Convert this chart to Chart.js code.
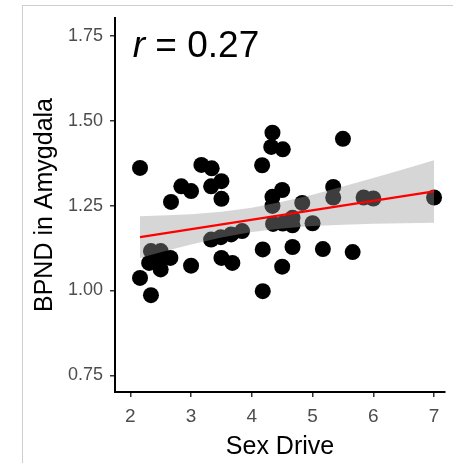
<!DOCTYPE html>
<html>
<head>
<meta charset="utf-8">
<script src="https://cdn.jsdelivr.net/npm/chart.js@4/dist/chart.umd.min.js"></script>
<style>
  html, body { margin: 0; padding: 0; background: #fff; }
  #wrap { position: relative; width: 453px; height: 463px; overflow: hidden; }
  #c { position: absolute; left: 0; top: 0; }
  #frame { position: absolute; left: 22px; top: 5px; width: 440px; height: 470px;
           border-left: 1px solid #cfcfcf; border-top: 1px solid #cfcfcf; pointer-events: none; }
</style>
</head>
<body>
<div id="wrap"><canvas id="c" width="453" height="463"></canvas><div id="frame"></div></div>
<script>
// Sex drive score vs. amygdala binding potential, one point per subject
const sexDrive = [
  2.16, 3.17, 3.34, 2.84, 3.00, 2.67, 3.33, 3.50, 3.50,
  2.34, 2.50, 2.31, 2.47, 2.66, 2.50, 2.16, 2.34, 3.00,
  3.33, 3.49, 3.66, 3.84, 3.50, 3.68,
  4.34, 4.32, 4.51, 4.17, 4.50, 4.34, 4.34, 4.83, 4.35,
  4.51, 4.67, 5.00, 4.67, 4.18, 4.67, 5.17, 4.50, 4.18,
  5.50, 5.34, 5.34, 5.84, 6.00, 7.00, 5.66
];
const bpnd = [
  1.361, 1.370, 1.360, 1.307, 1.293, 1.261, 1.307, 1.322, 1.270,
  1.116, 1.116, 1.081, 1.086, 1.096, 1.062, 1.037, 0.986, 1.073,
  1.150, 1.157, 1.165, 1.175, 1.096, 1.081,
  1.465, 1.423, 1.416, 1.369, 1.296, 1.276, 1.249, 1.258, 1.196,
  1.197, 1.192, 1.198, 1.214, 1.121, 1.128, 1.122, 1.070, 0.998,
  1.447, 1.305, 1.274, 1.274, 1.271, 1.274, 1.113
];

// Linear fit and its 95% confidence band
const fitX = [2.16, 7.00];
const fitY = [1.157, 1.292];
const bandX     = [2.16,   2.5,    3.0,    3.5,    4.0,    4.5,    5.0,    5.5,    6.0,    6.5,    7.0];
const bandUpper = [1.2185, 1.2206, 1.2249, 1.2323, 1.2441, 1.2612, 1.2824, 1.3061, 1.3314, 1.3574, 1.3840];
const bandLower = [1.0955, 1.1124, 1.1355, 1.1559, 1.1721, 1.1828, 1.1896, 1.1937, 1.1964, 1.1982, 1.1996];

// Correlation coefficient shown in the corner
const rValue = 0.27;
const rLabelAt = { x: 2.04, y: 1.688 };

// Axis ticks
const xTicks = [2, 3, 4, 5, 6, 7];
const xTickLabels = ['2', '3', '4', '5', '6', '7'];
const yTicks = [0.75, 1.00, 1.25, 1.50, 1.75];
const yTickLabels = ['0.75', '1.00', '1.25', '1.50', '1.75'];

const FONT = '"Liberation Sans", Arial, Helvetica, sans-serif';

const rLabel = {
  id: 'rLabel',
  afterDraw(chart) {
    const { ctx, scales: { x, y } } = chart;
    const px = x.getPixelForValue(rLabelAt.x);
    const py = y.getPixelForValue(rLabelAt.y);
    ctx.save();
    ctx.fillStyle = '#000';
    ctx.textBaseline = 'alphabetic';
    ctx.textAlign = 'left';
    ctx.font = 'italic 37px ' + FONT;
    ctx.fillText('r', px, py);
    const w = ctx.measureText('r').width;
    ctx.font = '37px ' + FONT;
    ctx.fillText(' = ' + rValue.toFixed(2), px + w, py);
    ctx.restore();
  }
};

new Chart(document.getElementById('c'), {
  type: 'scatter',
  data: {
    datasets: [
      {
        type: 'line', label: 'fit',
        data: fitX.map((x, i) => ({ x, y: fitY[i] })),
        borderColor: '#ff0000', borderWidth: 2.2, pointRadius: 0, fill: false, order: 0
      },
      {
        type: 'line', label: 'upper',
        data: bandX.map((x, i) => ({ x, y: bandUpper[i] })),
        borderColor: 'rgba(0,0,0,0)', borderWidth: 0, pointRadius: 0,
        fill: '+1', backgroundColor: 'rgba(153,153,153,0.4)', order: 1
      },
      {
        type: 'line', label: 'lower',
        data: bandX.map((x, i) => ({ x, y: bandLower[i] })),
        borderColor: 'rgba(0,0,0,0)', borderWidth: 0, pointRadius: 0, fill: false, order: 2
      },
      {
        type: 'scatter', label: 'subjects',
        data: sexDrive.map((x, i) => ({ x, y: bpnd[i] })),
        backgroundColor: '#000', borderWidth: 0, pointRadius: 8, order: 3
      }
    ]
  },
  options: {
    responsive: false,
    animation: false,
    devicePixelRatio: 1,
    layout: { padding: { top: 18, right: 0, bottom: 0, left: 0 } },
    plugins: { legend: { display: false }, tooltip: { enabled: false } },
    scales: {
      x: {
        type: 'linear', min: 1.748, max: 7.18,
        afterBuildTicks: s => { s.ticks = xTicks.map(v => ({ value: v })); },
        afterFit: s => { s.height = 71; },
        grid: { drawOnChartArea: false, drawTicks: true, tickLength: 5, color: '#333', lineWidth: 1.5 },
        border: { display: true, color: '#000', width: 2 },
        ticks: {
          color: '#4d4d4d', font: { family: FONT, size: 19 }, padding: 8, maxRotation: 0,
          callback: (v, i) => xTickLabels[i]
        },
        title: {
          display: true, text: 'Sex Drive', color: '#000',
          font: { family: FONT, size: 25 }, padding: { top: 2, bottom: 1 }
        }
      },
      y: {
        type: 'linear', min: 0.7007, max: 1.803,
        afterBuildTicks: s => { s.ticks = yTicks.map(v => ({ value: v })); },
        afterFit: s => { s.width = 115; },
        grid: { drawOnChartArea: false, drawTicks: true, tickLength: 5, color: '#333', lineWidth: 1.5 },
        border: { display: true, color: '#000', width: 2 },
        ticks: {
          color: '#4d4d4d', font: { family: FONT, size: 18 }, padding: 7,
          callback: (v, i) => yTickLabels[i]
        },
        title: {
          display: true, text: 'BPND in Amygdala', color: '#000',
          font: { family: FONT, size: 25 }, padding: { top: 30, bottom: 0 }
        }
      }
    }
  },
  plugins: [rLabel]
});
</script>
</body>
</html>
